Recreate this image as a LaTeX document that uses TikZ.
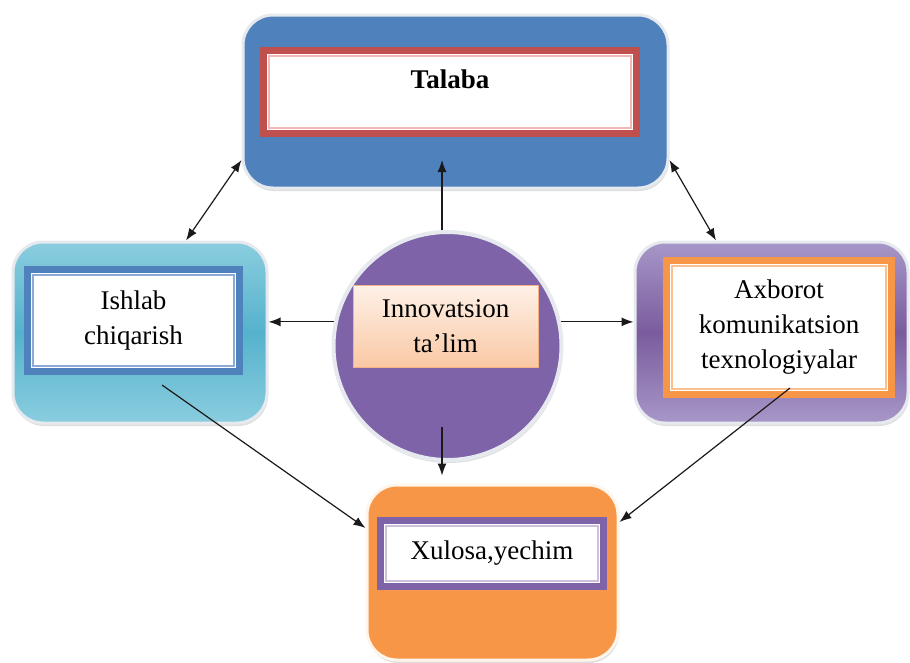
\documentclass[tikz,border=0pt]{standalone}
\usepackage{fontspec}
\setmainfont{Liberation Serif}
\usetikzlibrary{arrows.meta,calc,shadows}
\definecolor{cblue}{HTML}{4F81BD}
\definecolor{cred}{HTML}{C0504D}
\definecolor{cpink}{HTML}{F2B8B7}
\definecolor{ctealA}{HTML}{8ACDDF}
\definecolor{ctealB}{HTML}{55B2CC}
\definecolor{cpurA}{HTML}{7A5C9E}
\definecolor{cpurB}{HTML}{A797C8}
\definecolor{cpur}{HTML}{7F63A8}
\definecolor{corange}{HTML}{F79646}
\definecolor{corlight}{HTML}{FAC08F}
\definecolor{cpurlight}{HTML}{CCC0DA}
\definecolor{cbluelight}{HTML}{8DAAD6}
\definecolor{cpeachA}{HTML}{FEF1E8}
\definecolor{cpeachB}{HTML}{FAC8A4}
\definecolor{cpeachE}{HTML}{F4B183}
\definecolor{cring}{HTML}{E6EAEF}
\definecolor{carrow}{HTML}{1A1A1A}
\begin{document}
\begin{tikzpicture}[x=1pt,y=-1pt,
  bigbox/.style={rounded corners=30pt, draw=cring, line width=3pt,
    drop shadow={shadow xshift=1pt, shadow yshift=-3pt, opacity=0.25}},
  frm/.style={draw=#1, line width=7pt, fill=white, align=center,
    font=\fontsize{27}{35}\selectfont, inner sep=0pt},
  innerline/.style={draw=#1, line width=1.5pt},
  lbl/.style={font=\fontsize{27}{35}\selectfont, inner sep=0pt, align=center},
  arr/.style={draw=carrow, line width=1.2pt, -{Latex[length=12pt,width=9pt]}},
  darr/.style={draw=carrow, line width=1.2pt, {Latex[length=12pt,width=9pt]}-{Latex[length=12pt,width=9pt]}}
]
\useasboundingbox (0,0) rectangle (910,662);
\fill[white] (0,0) rectangle (910,662);

% top box
\node[bigbox, fill=cblue, minimum width=425pt, minimum height=173pt] (top) at (455.5,101.5) {};
\node[frm=cred, minimum width=373pt, minimum height=83pt] (tf) at (450,92) {};
\draw[innerline=cpink] ([shift={(9pt,-9pt)}]tf.north west) rectangle ([shift={(-9pt,9pt)}]tf.south east);
\node[lbl, font=\fontsize{27}{35}\selectfont\bfseries] (tt) at ($(tf.north)+(0,32)$) {Talaba};

% left box
\node[bigbox, top color=ctealA, bottom color=ctealA, middle color=ctealB, minimum width=254pt, minimum height=181pt] (lbox) at (140,332.5) {};
\node[frm=cblue, minimum width=212pt, minimum height=102pt] (lf) at (133.5,320.5) {Ishlab\\chiqarish};
\draw[innerline=cbluelight] ([shift={(9pt,-9pt)}]lf.north west) rectangle ([shift={(-9pt,9pt)}]lf.south east);

% right box
\node[bigbox, top color=cpurB, bottom color=cpurB, middle color=cpurA, minimum width=273pt, minimum height=181pt] (rbox) at (771.5,332.5) {};
\node[frm=corange, minimum width=225pt, minimum height=134pt] (rf) at (779,327.5) {Axborot\\komunikatsion\\texnologiyalar};
\draw[innerline=corlight] ([shift={(9pt,-9pt)}]rf.north west) rectangle ([shift={(-9pt,9pt)}]rf.south east);

% bottom box
\node[bigbox, fill=corange, draw=white!92!orange, minimum width=251pt, minimum height=175pt] (bot) at (492.5,572.5) {};
\node[frm=cpur, minimum width=223pt, minimum height=66pt] (bf) at (492,553.5) {Xulosa,yechim};
\draw[innerline=cpurlight] ([shift={(9pt,-9pt)}]bf.north west) rectangle ([shift={(-9pt,9pt)}]bf.south east);

% circle
\node[circle, fill=cpur, draw=cring, line width=4pt, minimum size=228pt, inner sep=0pt,
  drop shadow={shadow xshift=1pt, shadow yshift=-3pt, opacity=0.25}] (circ) at (447.5,346) {};
\node[lbl, top color=cpeachA, bottom color=cpeachB, draw=cpeachE, line width=1pt,
  minimum width=185pt, minimum height=82pt] (cf) at (445.5,326) {Innovatsion\\ta’lim};

% connectors
\draw[arr] ([xshift=-5.5pt]circ.north) -- ($(circ.north -| cf.center)+(-3.5,-70)$);
\draw[arr] ($(circ.south)+(-5.5,-35)$) coordinate (cs) -- ($(cs |- bot.north)+(0,-8)$);
\draw[arr] (circ.168) -- (lbox.east |- circ.168);
\draw[arr] (circ.12) -- (rbox.west |- circ.12);
\draw[darr] ([yshift=-58.5pt]top.west) -- ([xshift=46pt]lbox.north);
\draw[darr] ([yshift=-58.5pt]top.east) -- ([xshift=-55.5pt]rbox.north);
\draw[arr] ([shift={(22pt,-52.5pt)}]lbox.center) -- ([yshift=44.5pt]bot.west);
\draw[arr] ([shift={(18.5pt,-55.5pt)}]rbox.center) -- ([yshift=50.5pt]bot.east);
\end{tikzpicture}
\end{document}
